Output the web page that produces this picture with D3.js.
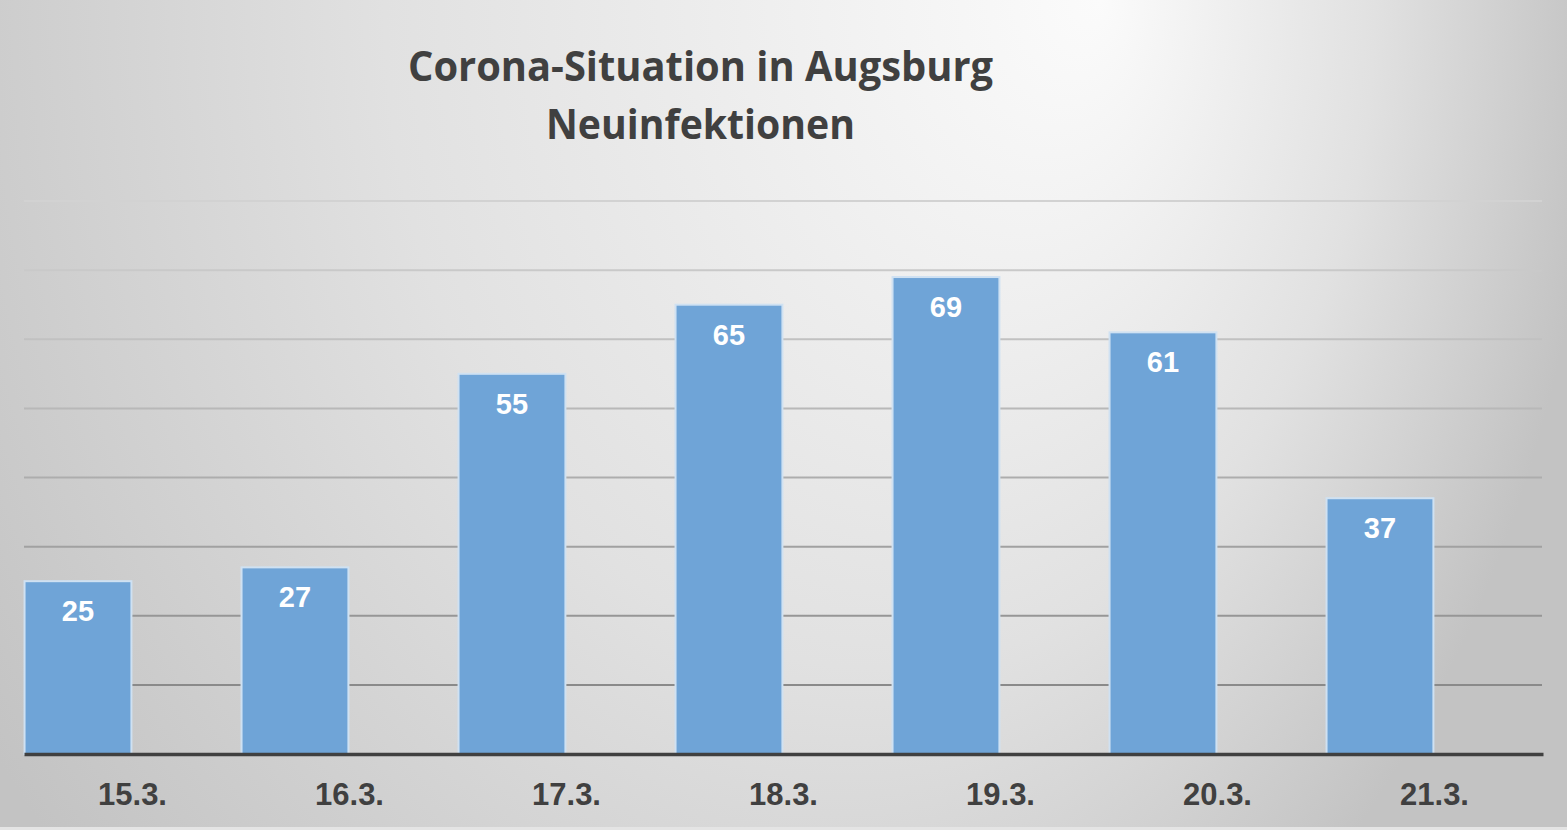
<!DOCTYPE html>
<html>
<head>
<meta charset="utf-8">
<title>Corona-Situation in Augsburg</title>
<script src="https://d3js.org/d3.v7.min.js"></script>
<style>
  html, body { margin: 0; padding: 0; overflow: hidden; }
  svg { display: block; }
</style>
</head>
<body>
<div id="chart"></div>
<script>
// data
const days = ["15.3.", "16.3.", "17.3.", "18.3.", "19.3.", "20.3.", "21.3."];
const newCases = [25, 27, 55, 65, 69, 61, 37];
const gridTicks = [10, 20, 30, 40, 50, 60, 70, 80];
const titleLines = ["Corona-Situation in Augsburg", "Neuinfektionen"];

const w = 1567, h = 830;

const svg = d3.select("#chart")
  .append("svg")
  .attr("width", w)
  .attr("height", h);

// background: radial grey fade, brightest near top right of centre
const defs = svg.append("defs");
const bg = defs.append("radialGradient")
  .attr("id", "bg")
  .attr("gradientUnits", "userSpaceOnUse")
  .attr("cx", 700).attr("cy", 0).attr("r", 900)
  .attr("fx", 1100).attr("fy", 0)
  .attr("gradientTransform", "translate(700,0) scale(1,1.35) translate(-700,0)");
bg.append("stop").attr("offset", 0).attr("stop-color", "#fbfbfb");
bg.append("stop").attr("offset", 0.55).attr("stop-color", "#e1e1e1");
bg.append("stop").attr("offset", 1).attr("stop-color", "#c3c3c3");

svg.append("rect")
  .attr("width", w).attr("height", h)
  .attr("fill", "url(#bg)");

// scales
const x = d3.scaleBand()
  .domain(days)
  .range([24, 1543])
  .paddingInner(0)
  .paddingOuter(0);

const y = d3.scaleLinear()
  .domain([0, 80])
  .range([754, 201]);

// gridlines, they get darker toward the bottom
const gridColor = d3.scaleLinear()
  .domain([80, 50, 10])
  .range(["#d2d2d2", "#b8b8b8", "#8a8a8a"]);

svg.append("g")
  .selectAll("line")
  .data(gridTicks)
  .enter()
  .append("line")
  .attr("x1", 24)
  .attr("x2", 1542)
  .attr("y1", d => y(d))
  .attr("y2", d => y(d))
  .attr("stroke", d => gridColor(d))
  .attr("stroke-width", 2);

// bars sit in the left half of each band (the chart had an empty second slot)
const slot = d3.scaleBand()
  .domain(["cases", "empty"])
  .range([0, x.bandwidth()])
  .paddingInner(0.02)
  .paddingOuter(0.005);

svg.append("g")
  .selectAll("rect")
  .data(newCases)
  .enter()
  .append("rect")
  .attr("x", (d, i) => x(days[i]) + slot("cases"))
  .attr("y", d => y(d))
  .attr("width", slot.bandwidth())
  .attr("height", d => y(0) - y(d))
  .attr("fill", "#6fa4d7")
  .attr("stroke", "#cfe1f2")
  .attr("stroke-width", 2);

// value labels inside bar tops
svg.append("g")
  .selectAll("text")
  .data(newCases)
  .enter()
  .append("text")
  .attr("x", (d, i) => x(days[i]) + slot("cases") + slot.bandwidth() / 2)
  .attr("y", d => y(d) + 40)
  .attr("text-anchor", "middle")
  .attr("font-family", "'Liberation Sans', Arial, sans-serif")
  .attr("font-weight", "bold")
  .attr("font-size", 29)
  .attr("fill", "#ffffff")
  .text(d => d);

// baseline + category labels
const xAxis = d3.axisBottom(x).tickSize(0).tickPadding(0);
const ax = svg.append("g")
  .attr("transform", "translate(0," + y(0) + ")")
  .call(xAxis);
ax.select(".domain")
  .attr("stroke", "#404040")
  .attr("stroke-width", 3.5);
ax.selectAll("text")
  .attr("y", 51)
  .attr("dy", 0)
  .attr("font-family", "'Liberation Sans', Arial, sans-serif")
  .attr("font-weight", "bold")
  .attr("font-size", 31)
  .attr("fill", "#404040");

// title
svg.append("g")
  .selectAll("text")
  .data(titleLines)
  .enter()
  .append("text")
  .attr("x", 700.5)
  .attr("y", (d, i) => 81 + i * 58)
  .attr("text-anchor", "middle")
  .attr("font-family", "'Open Sans', sans-serif")
  .attr("font-weight", "bold")
  .attr("font-size", 42)
  .attr("fill", "#404040")
  .attr("textLength", (d, i) => i === 0 ? 585 : 309)
  .attr("lengthAdjust", "spacingAndGlyphs")
  .text(d => d);

// thin light strip at the very bottom edge
svg.append("rect")
  .attr("x", 0).attr("y", h - 3)
  .attr("width", w).attr("height", 3)
  .attr("fill", "#e4e4e4");
</script>
</body>
</html>
